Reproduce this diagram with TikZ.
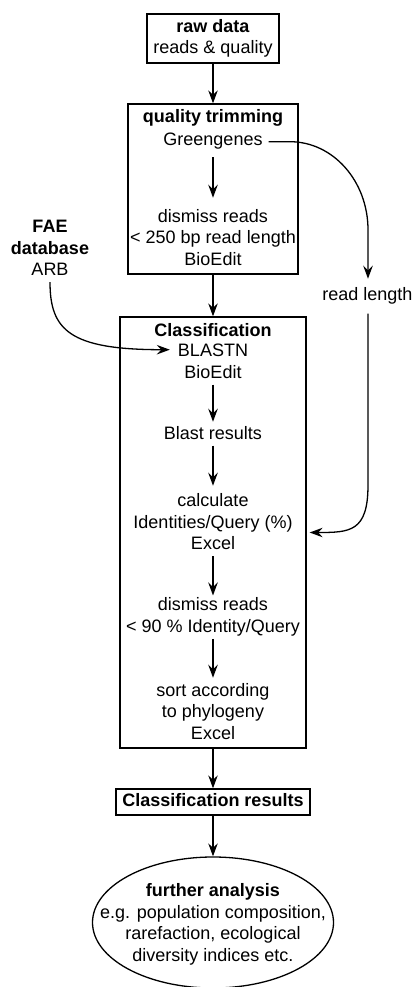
\documentclass[tikz,border=0pt]{standalone}
\usepackage{fontspec}
\setmainfont{Liberation Sans}
\usetikzlibrary{arrows.meta,shapes.geometric}
\begin{document}
\begin{tikzpicture}[x=1pt,y=-1pt,
  txt/.style={inner sep=0pt,align=center,font=\fontsize{18}{21.5}\selectfont},
  box/.style={draw,line width=1.3pt,inner sep=0pt},
  arr/.style={-{Stealth[length=13pt,width=9.5pt,inset=4.5pt]},line width=1.3pt},
]
\useasboundingbox (0,0) rectangle (412,987);
\clip (0,0) rectangle (412,987);
% boxes
\node[box,txt,minimum width=132pt,minimum height=49pt] (raw) at (213,38.5)
  {\textbf{raw data}\strut\\reads \& quality\strut};
\node[box,minimum width=170pt,minimum height=170pt] (qt) at (213,189) {};
\node[box,minimum width=186pt,minimum height=431pt] (cls) at (213,532.5) {};
\node[box,txt,minimum width=194pt,minimum height=26pt] (cres) at (213,802)
  {\textbf{Classification results}\strut};
\node[draw,ellipse,line width=1.3pt,inner sep=0pt,minimum width=241pt,minimum height=131pt] (ell) at (213,922.5) {};
% texts
\node[txt] (qttitle) at (213,118.7) {\textbf{quality trimming}\strut};
\node[txt] (green) at (213,141.7) {Greengenes\strut};
\node[txt] (dis1) at (213,239.2) {dismiss reads\strut\\< 250 bp read length\\BioEdit\strut};
\node[txt] (clstitle) at (213,331.7) {\textbf{Classification}\strut};
\node[txt] (blastn) at (213,351.7) {BLASTN\strut};
\node[txt] (bio) at (213,373.7) {BioEdit\strut};
\node[txt] (bres) at (213,434.7) {Blast results\strut};
\node[txt] (calc) at (213,523.7) {calculate\strut\\Identities/Query (\%)\\Excel\strut};
\node[txt] (dis2) at (213,617.2) {dismiss reads\strut\\< 90 \% Identity/Query\strut};
\node[txt] (sort) at (213,713.2) {sort according\strut\\to phylogeny\\Excel\strut};
\node[txt] (elltxt) at (213,924.7) {\textbf{further analysis}\strut\\e.g. population composition,\\rarefaction, ecological\\diversity indices etc.\strut};
\node[txt] (fae) at (50,249.7) {\textbf{FAE}\strut\\\textbf{database}\\ARB\strut};
\node[txt] (rl) at (367.5,295.7) {read length\strut};
% connectors
\draw[arr] (raw) -- (qt);
\draw[arr,shorten <=4.5pt,shorten >=9pt] (green) -- (dis1);
\draw[arr] (qt) -- (cls);
\draw[arr,shorten >=2pt] (bio) -- (bres);
\draw[arr,shorten >=5.5pt] (bres) -- (calc);
\draw[arr] (calc) -- (dis2);
\draw[arr,shorten >=3pt] (dis2) -- (sort);
\draw[arr] (cls) -- (cres);
\draw[arr] (cres) -- (ell);
\draw[arr] (fae.south) .. controls +(0,48) and +(-100,0) .. ([xshift=-8pt,yshift=2pt]blastn.west);
\draw[arr,shorten >=6pt] ([xshift=6pt]green.east) -- (290,141.7) .. controls (333,141.7) and (368,181) .. (368,230) -- (rl.north -| 368,0);
\draw[arr,shorten <=7pt] (rl.south -| 368,0) -- (368,485) .. controls (368,532) and (350,532.5) .. ([xshift=3pt]cls.east);
\end{tikzpicture}
\end{document}
